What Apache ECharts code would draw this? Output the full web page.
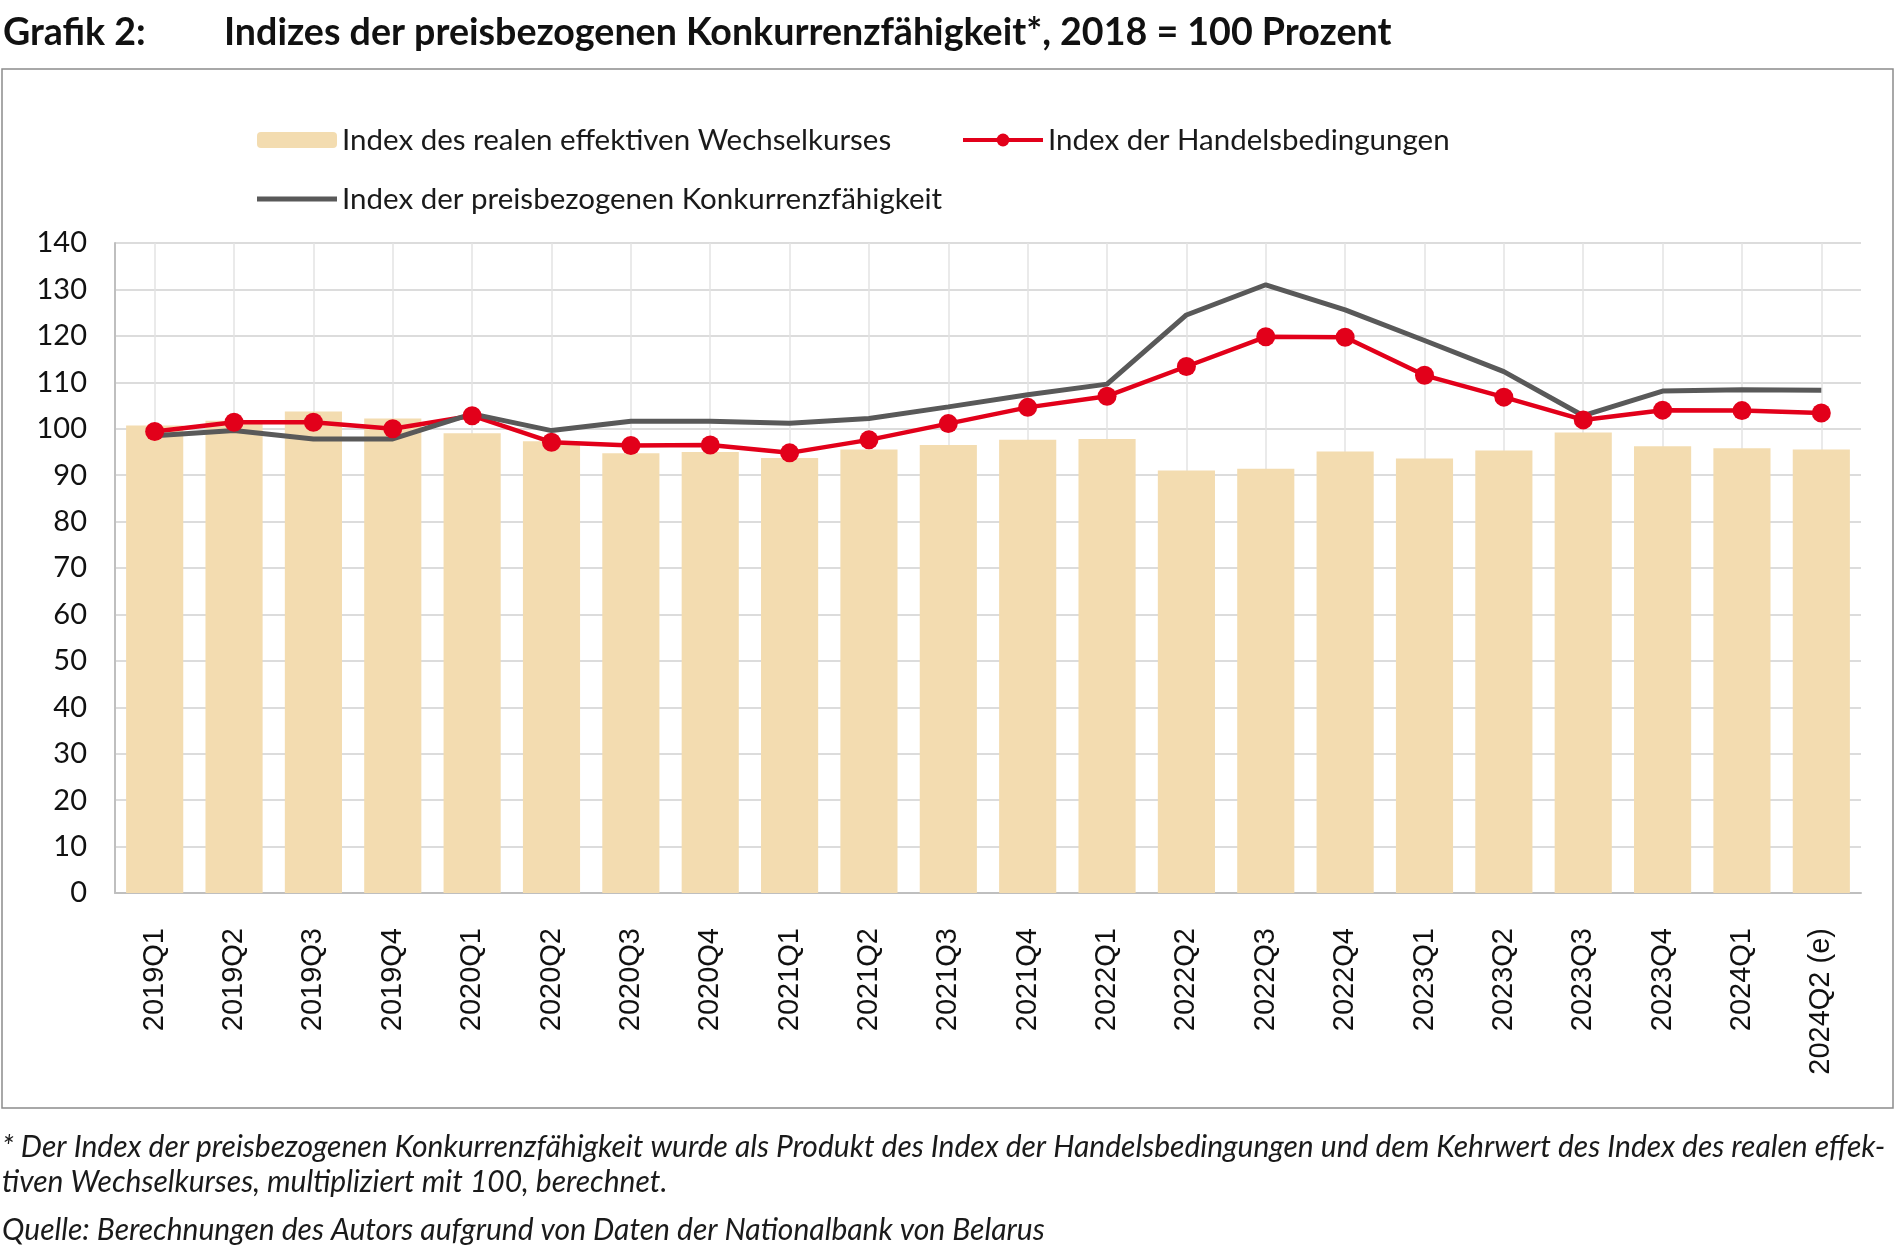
<!DOCTYPE html>
<html><head><meta charset="utf-8">
<script src="https://cdn.jsdelivr.net/npm/echarts@6/dist/echarts.min.js"></script>
<style>html,body{margin:0;padding:0;background:#fff}#c{width:1895px;height:1251px}</style>
</head><body><div id="c"></div>
<script>
const categories = ['2019Q1','2019Q2','2019Q3','2019Q4','2020Q1','2020Q2','2020Q3','2020Q4','2021Q1','2021Q2','2021Q3','2021Q4','2022Q1','2022Q2','2022Q3','2022Q4','2023Q1','2023Q2','2023Q3','2023Q4','2024Q1','2024Q2 (e)'];
const realExchange = [100.7,101.7,103.7,102.2,99.0,97.3,94.7,95.0,93.7,95.5,96.5,97.6,97.8,91.0,91.4,95.1,93.6,95.3,99.2,96.2,95.8,95.5];
const termsOfTrade = [99.4,101.4,101.4,100.0,102.8,97.1,96.4,96.5,94.8,97.6,101.1,104.6,107.0,113.4,119.8,119.7,111.5,106.8,101.9,104.0,103.9,103.4];
const competitiveness = [98.5,99.6,97.8,97.8,103.2,99.6,101.6,101.6,101.2,102.2,104.7,107.3,109.6,124.5,131.0,125.6,119.0,112.3,102.8,108.1,108.4,108.3];
const yTicks = {min:0, max:140, interval:10};
const names = ['Index des realen effektiven Wechselkurses','Index der Handelsbedingungen','Index der preisbezogenen Konkurrenzfähigkeit'];

const chart = echarts.init(document.getElementById('c'));
const FONT = 'Lato';
const legendText = {fontFamily:FONT,fontSize:29.5,color:'#1a1a1a'};
chart.setOption({
  animation:false,
  backgroundColor:'#fff',
  graphic:[
    {type:'rect', shape:{x:2,y:69,width:1891,height:1039}, style:{fill:'none',stroke:'#8c8c8c',lineWidth:1.5}},
    {type:'text', left:3, top:14, style:{text:'Grafik 2:', font:'bold 37.6px Lato', fill:'#111'}},
    {type:'text', left:224, top:14, style:{text:'Indizes der preisbezogenen Konkurrenzfähigkeit*, 2018 = 100 Prozent', font:'bold 37.6px Lato', fill:'#111'}},
    {type:'text', left:2, top:1132, style:{text:'* Der Index der preisbezogenen Konkurrenzfähigkeit wurde als Produkt des Index der Handelsbedingungen und dem Kehrwert des Index des realen effek-', font:'italic 30px Lato', fill:'#1a1a1a'}},
    {type:'text', left:2, top:1167, style:{text:'tiven Wechselkurses, multipliziert mit 100, berechnet.', font:'italic 30px Lato', fill:'#1a1a1a'}},
    {type:'text', left:2, top:1215, style:{text:'Quelle: Berechnungen des Autors aufgrund von Daten der Nationalbank von Belarus', font:'italic 30px Lato', fill:'#1a1a1a'}}
  ],
  legend:[
    {data:[names[0]], left:252, top:120, itemWidth:80, itemHeight:16, textStyle:legendText},
    {data:[names[1]], left:956, top:120, itemWidth:80, itemHeight:16, textStyle:legendText, lineStyle:{width:4}},
    {data:[names[2]], left:252, top:179, itemWidth:80, itemHeight:5, icon:'rect', textStyle:legendText, itemStyle:{color:'#595959'}}
  ],
  grid:{left:115, right:34, top:243, bottom:358},
  xAxis:{
    type:'category', data:categories,
    axisLine:{lineStyle:{color:'#bfbfbf',width:2}},
    axisTick:{show:false},
    axisLabel:{interval:0, rotate:90, margin:35, fontFamily:'Liberation Sans', fontSize:29, color:'#111'},
    splitLine:{show:true, alignWithLabel:true, lineStyle:{color:'#e3e3e3',width:1.5}}
  },
  yAxis:{
    type:'value', min:yTicks.min, max:yTicks.max, interval:yTicks.interval,
    axisLine:{show:true, lineStyle:{color:'#bfbfbf',width:2}},
    axisTick:{show:false},
    axisLabel:{margin:28, fontFamily:FONT, fontSize:29, color:'#111'},
    splitLine:{lineStyle:{color:'#dcdcdc',width:2}}
  },
  series:[
    {name:names[0], type:'bar', data:realExchange, barCategoryGap:'28%', itemStyle:{color:'#f3dcb0'}},
    {name:names[1], type:'line', data:termsOfTrade, symbol:'circle', symbolSize:19, lineStyle:{color:'#e2001a',width:4.5}, itemStyle:{color:'#e2001a'}},
    {name:names[2], type:'line', data:competitiveness, symbol:'none', lineStyle:{color:'#595959',width:5}, itemStyle:{color:'#595959'}}
  ]
});
</script></body></html>
